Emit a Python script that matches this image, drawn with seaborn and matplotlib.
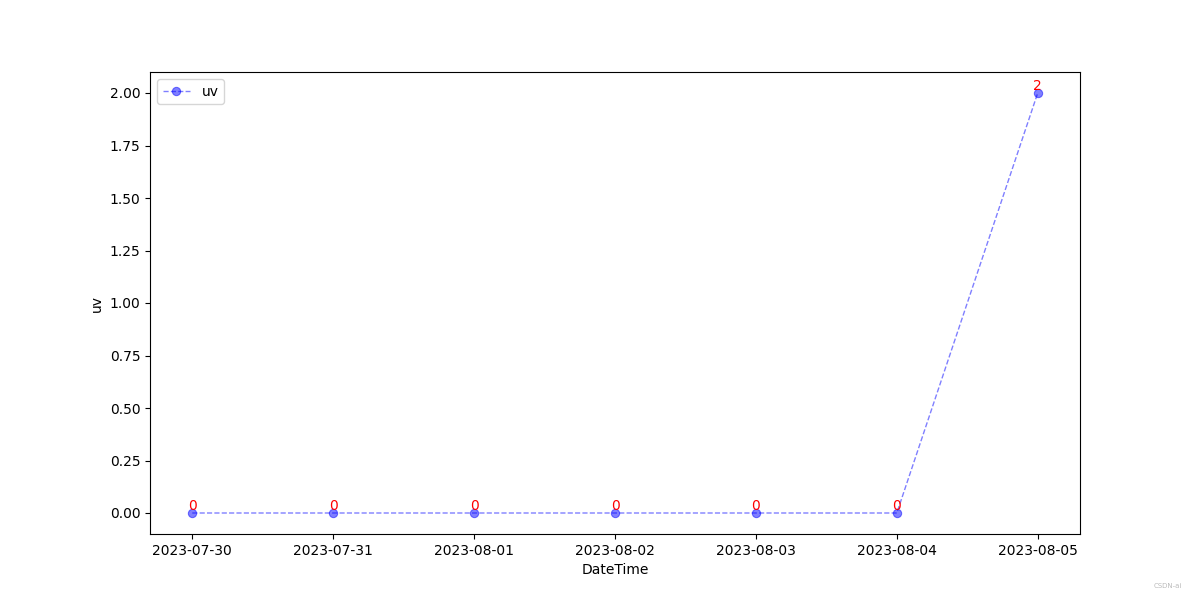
import pandas as pd
import matplotlib
matplotlib.use("Agg")
import matplotlib.pyplot as plt
import seaborn as sns

dates = ["2023-07-30", "2023-07-31", "2023-08-01", "2023-08-02",
         "2023-08-03", "2023-08-04", "2023-08-05"]
uv = [0, 0, 0, 0, 0, 0, 2]

df = pd.DataFrame({"DateTime": dates, "uv": uv})

fig, ax = plt.subplots(figsize=(12, 6), dpi=100)
sns.lineplot(data=df, x="DateTime", y="uv", ax=ax, marker="o", linestyle="--",
             color="blue", alpha=0.5, label="uv", markeredgecolor="blue",
             linewidth=1)

for i, v in enumerate(df["uv"]):
    ax.text(i, v, str(v), color="red", ha="center", va="bottom", fontsize=10)

ax.set_xlabel("DateTime")
ax.set_ylabel("uv")
ax.legend(loc="upper left")
fig.text(0.985, 0.02, "CSDN-ai", fontsize=5, color="#bbbbbb", ha="right")
plt.savefig("out.png")
